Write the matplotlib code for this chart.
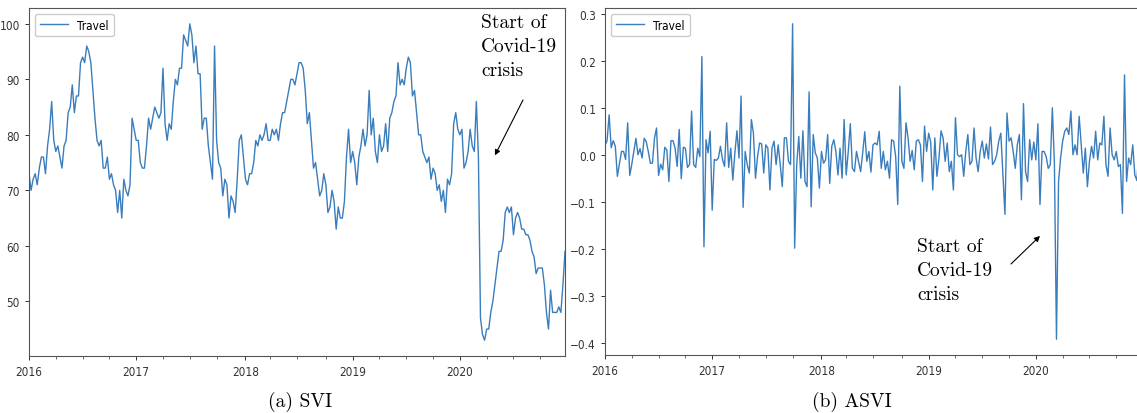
import numpy as np
import pandas as pd
import matplotlib
matplotlib.use("Agg")
import matplotlib.pyplot as plt
import matplotlib.dates as mdates
from matplotlib.ticker import FixedLocator

plt.rcParams['font.family'] = ['DejaVu Sans']
plt.rcParams['font.stretch'] = 'condensed'

weeks = pd.date_range("2016-01-03", periods=261, freq="W-SUN")

svi_travel = [
    73, 70, 72, 73, 71, 74, 76, 76, 73, 78, 81, 86, 79, 77, 78, 76, 74, 78, 79, 84,
    85, 89, 84, 87, 87, 93, 94, 93, 96, 95, 93, 88, 83, 79, 78, 79, 74, 74, 76, 72,
    73, 71, 70, 66, 70, 65, 72, 70, 69, 71, 83, 81,
    79, 79, 75, 74, 74, 78, 83, 81, 83, 85, 84, 83, 84, 92,
    82, 79, 82, 81, 86, 90, 89, 92, 92, 98, 97, 96, 100,
    98, 93, 96, 91, 91, 81, 83, 83, 78, 75, 72, 96,
    79, 75, 74, 69, 72, 71, 65,
    69, 68, 66, 72, 79, 80, 76, 72, 71, 73, 73, 75, 79, 78, 80, 79, 80, 82, 79, 79,
    81, 80, 81, 79, 82, 84, 84, 86, 88, 90, 90, 89, 91, 93,
    93, 92, 88, 82, 84, 79, 74, 75, 72, 69, 70, 73, 71, 66, 67, 70, 68, 63, 67, 65,
    65, 68, 76, 81, 75,
    77, 75, 71, 76, 78, 81, 78, 80, 88, 80, 83, 77, 75, 80, 77, 78, 82, 77, 83, 84,
    86, 87, 93, 89, 90, 89, 92, 94, 93, 87, 88, 84, 80, 80, 77, 76, 75, 76, 72, 74,
    73, 70, 71, 68, 70, 66, 72, 71, 73, 82, 84, 81, 80, 81, 74, 75, 77, 81, 78, 77,
    86, 76, 47, 44, 43, 45, 45, 48, 50, 53, 56, 59, 59, 61, 66, 67, 66, 67, 62, 65,
    66, 65, 63, 63, 62, 62, 61, 59, 58, 55, 56, 56, 56, 53, 48, 45, 52, 48, 48, 48,
    49, 48, 53, 59,
]

asvi_travel = [
    0.02,
    0.03, 0.085, 0.015, 0.03, 0.018, -0.046, -0.02, 0.007, 0.007, -0.01,
    0.068, -0.044, -0.02, 0.007, 0.035, 0.0, 0.013, -0.007, 0.035, 0.028,
    0.007, -0.018, -0.018, 0.035, 0.057, -0.044, -0.02, -0.032, 0.016, 0.01,
    -0.057, 0.03, 0.03, 0.014, -0.025, 0.054, -0.051, 0.016, 0.014, -0.027,
    -0.021, 0.093, -0.021, -0.027, 0.014, -0.004, 0.209,
    -0.196, 0.032, 0.004, 0.05, -0.118, -0.01, -0.012, -0.007, 0.018, -0.01,
    -0.025, 0.068, -0.027, 0.014, -0.054, 0.004, 0.051, -0.007, 0.125, -0.112,
    0.007, -0.021, -0.039, 0.075, 0.046, -0.05, -0.004, 0.025, 0.023, -0.039,
    0.021, 0.014, -0.075, 0.014, 0.029, -0.021, 0.021,
    -0.021, -0.068, 0.036, 0.036, -0.014, -0.021,
    0.279, -0.199,
    -0.021, 0.039, -0.05, 0.051, -0.057, -0.068, 0.134, -0.111,
    0.043, 0.004, -0.007, -0.071, 0.007, -0.018, -0.011, 0.043, -0.061, 0.018,
    0.032, 0.007, -0.043, 0.014, -0.05, 0.075, -0.043, 0.007, 0.066, -0.029,
    -0.036, 0.007, -0.014, -0.036, 0.004, 0.049, -0.014, 0.007, -0.037, 0.021,
    0.025, 0.021, 0.05, -0.029, 0.007, -0.032,
    -0.014, -0.05, 0.032, 0.029, -0.004, -0.106, 0.146,
    -0.014, -0.029, 0.068, 0.036, -0.014, 0.009, -0.032, 0.029, 0.032, 0.021,
    -0.057, 0.061, 0.007, 0.046, 0.027, -0.075, 0.036, -0.046, -0.007, 0.051,
    0.036, -0.014, 0.025, -0.036, -0.014, -0.075,
    0.079, 0.0, -0.004, 0.0, -0.046, 0.007, 0.043, -0.021, -0.014, 0.057,
    -0.007, -0.036, 0.007, 0.029, -0.007, 0.023, -0.009, 0.059, -0.021, -0.014,
    0.0, 0.029, 0.046,
    -0.04, -0.127,
    0.089, 0.029, 0.036, 0.007, -0.029, 0.021, 0.043, -0.096, 0.109, -0.036,
    -0.057, 0.032, -0.011, 0.027, -0.011, 0.066, -0.106, 0.007, 0.007, -0.004,
    -0.029, -0.021, 0.1,
    -0.02, -0.393,
    -0.057, -0.007, 0.029, 0.05, 0.057, 0.043, 0.093, 0.0, 0.021, 0.0,
    0.082, 0.021, -0.039, 0.014, -0.068, -0.014, 0.018, -0.007, 0.05, -0.011,
    0.025, 0.021, 0.082, -0.021, -0.046, 0.057, 0.0, -0.011, 0.007, -0.025,
    -0.021, -0.125, 0.17, -0.057, -0.007, -0.021, 0.021, -0.043,
    -0.055, 0.01, 0.02,
]

captions = ["(a) SVI", "(b) ASVI"]
note = "Start of\nCovid-19\ncrisis"

# ticks like pandas' weekly plots: year at first week, minor at quarters
wk = pd.Series(weeks, index=weeks)
year_ticks = wk.groupby(weeks.year).first()
quarter_ticks = wk[weeks.month.isin([4, 7, 10])].groupby([weeks.year[weeks.month.isin([4, 7, 10])],
                                                          weeks.month[weeks.month.isin([4, 7, 10])]]).first()

W, H = 1137, 414
fig = plt.figure(figsize=(W / 100, H / 100), dpi=100)
ax1 = fig.add_axes([29 / W, 1 - 357 / H, 536 / W, 348 / H])
ax2 = fig.add_axes([605 / W, 1 - 356 / H, 536 / W, 347 / H])

line_color = '#3a7dbd'
for ax, vals in [(ax1, svi_travel), (ax2, asvi_travel)]:
    ax.plot(weeks, vals, color=line_color, lw=1.0, label='Travel')
    ax.set_xlim(weeks[0], weeks[-1])
    ax.xaxis.set_major_locator(FixedLocator(mdates.date2num(year_ticks.values)))
    ax.xaxis.set_major_formatter(mdates.DateFormatter('%Y'))
    ax.xaxis.set_minor_locator(FixedLocator(mdates.date2num(quarter_ticks.values)))
    ax.tick_params(labelsize=8.5, colors='#333333', length=3, width=0.7)
    ax.tick_params(which='minor', length=2, width=0.6, colors='#555555')
    for s in ax.spines.values():
        s.set_color('#555555')
        s.set_linewidth(0.8)
    ax.legend(loc='upper left', fontsize=8.5, handlelength=2.4,
              borderpad=0.4, framealpha=1, edgecolor='#cccccc')

ax2.set_yticks([-0.4, -0.3, -0.2, -0.1, 0.0, 0.1, 0.2, 0.3])

serif = dict(family='cmr10', fontsize=14, linespacing=1.45, color='black')
fig.text(481 / W, 1 - 14 / H, note, va='top', ha='left', **serif)
fig.text(917 / W, 1 - 238 / H, note, va='top', ha='left', **serif)

ax1.annotate('', xy=(weeks[226], 76.3), xycoords='data',
             xytext=(523 / W, 1 - 101 / H), textcoords='figure fraction',
             arrowprops=dict(arrowstyle='-|>', color='black', lw=0.8, mutation_scale=8,
                             shrinkA=0, shrinkB=0))
ax2.annotate('', xy=(weeks[211], -0.173), xycoords='data',
             xytext=(1011 / W, 1 - 265 / H), textcoords='figure fraction',
             arrowprops=dict(arrowstyle='-|>', color='black', lw=0.8, mutation_scale=8,
                             shrinkA=0, shrinkB=0))

fig.text(300 / W, 1 - 402 / H, captions[0], ha='center', va='center', family='cmr10', fontsize=14)
fig.text(852 / W, 1 - 402 / H, captions[1], ha='center', va='center', family='cmr10', fontsize=14)

fig.savefig("out.png", dpi=100)
